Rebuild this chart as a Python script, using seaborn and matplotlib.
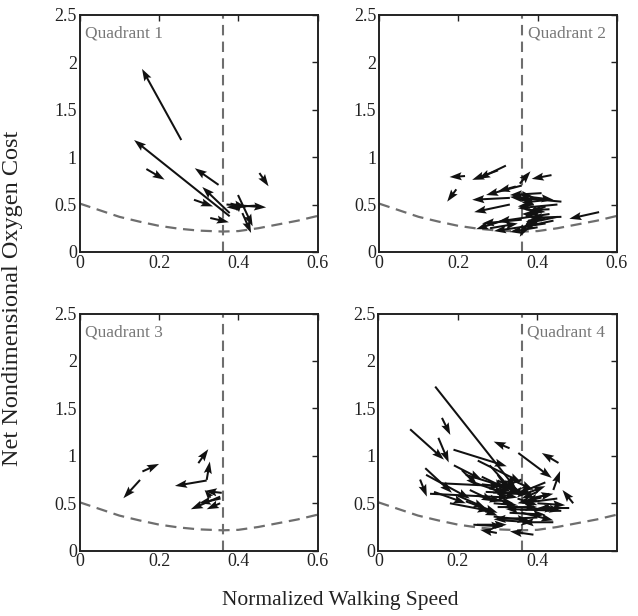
import matplotlib
matplotlib.use("Agg")
import matplotlib.pyplot as plt
import numpy as np
import pandas as pd
import seaborn as sns

sns.set_style("white")
plt.rcParams["font.family"] = ["Liberation Serif", "DejaVu Serif"]

# optimal-speed cost curve and reference speed
curve_speed = [0.0, 0.05, 0.1, 0.15, 0.2, 0.25, 0.3, 0.36, 0.4, 0.45, 0.5, 0.55, 0.6]
curve_cost = [0.51, 0.44, 0.37, 0.32, 0.275, 0.245, 0.225, 0.215, 0.22, 0.25, 0.29, 0.33, 0.38]
ref_speed = 0.36

# arrows per quadrant: tail (x0, y0) -> head (x1, y1)
q1_x0 = [0.256, 0.378, 0.168, 0.350, 0.453, 0.378, 0.288, 0.329, 0.370, 0.450, 0.399, 0.410, 0.380, 0.395]
q1_y0 = [1.18, 0.376, 0.874, 0.707, 0.832, 0.41, 0.55, 0.358, 0.50, 0.49, 0.60, 0.41, 0.51, 0.44]
q1_x1 = [0.157, 0.137, 0.214, 0.290, 0.476, 0.309, 0.336, 0.376, 0.470, 0.370, 0.436, 0.432, 0.420, 0.410]
q1_y1 = [1.93, 1.18, 0.762, 0.883, 0.692, 0.685, 0.48, 0.313, 0.47, 0.47, 0.27, 0.20, 0.47, 0.52]

q2_x0 = [0.217, 0.300, 0.320, 0.195, 0.355, 0.435, 0.360, 0.345, 0.330, 0.460, 0.330, 0.450, 0.430,
         0.555, 0.320, 0.360, 0.430, 0.380, 0.450, 0.460, 0.430, 0.420, 0.400, 0.440, 0.360, 0.400,
         0.380, 0.280, 0.410, 0.420, 0.370, 0.400, 0.390, 0.420, 0.370]
q2_y0 = [0.80, 0.86, 0.91, 0.66, 0.72, 0.81, 0.70, 0.69, 0.57, 0.53, 0.50, 0.50, 0.55,
         0.42, 0.34, 0.34, 0.40, 0.34, 0.37, 0.37, 0.45, 0.30, 0.26, 0.33, 0.60, 0.56,
         0.58, 0.25, 0.62, 0.48, 0.45, 0.40, 0.50, 0.35, 0.38]
q2_x1 = [0.178, 0.235, 0.250, 0.172, 0.382, 0.385, 0.270, 0.300, 0.235, 0.330, 0.240, 0.350, 0.360,
         0.480, 0.245, 0.260, 0.300, 0.355, 0.370, 0.380, 0.380, 0.290, 0.330, 0.360, 0.390, 0.350,
         0.440, 0.350, 0.330, 0.370, 0.420, 0.360, 0.350, 0.370, 0.420]
q2_y1 = [0.79, 0.76, 0.77, 0.53, 0.85, 0.77, 0.60, 0.64, 0.55, 0.58, 0.42, 0.46, 0.52,
         0.35, 0.24, 0.30, 0.32, 0.16, 0.30, 0.36, 0.44, 0.22, 0.21, 0.26, 0.58, 0.55,
         0.55, 0.30, 0.60, 0.39, 0.42, 0.40, 0.48, 0.32, 0.36]

q3_x0 = [0.152, 0.158, 0.299, 0.320, 0.320, 0.358, 0.354, 0.354, 0.355, 0.330]
q3_y0 = [0.746, 0.835, 0.923, 0.746, 0.740, 0.610, 0.570, 0.500, 0.550, 0.560]
q3_x1 = [0.110, 0.200, 0.324, 0.328, 0.240, 0.315, 0.280, 0.320, 0.300, 0.315]
q3_y1 = [0.553, 0.915, 1.070, 0.940, 0.683, 0.630, 0.437, 0.437, 0.500, 0.640]

q4_x0 = [0.143, 0.080, 0.160, 0.151, 0.105, 0.189, 0.118, 0.120, 0.190, 0.210, 0.160, 0.130, 0.180,
         0.250, 0.248, 0.298, 0.330, 0.352, 0.453, 0.440, 0.490, 0.239, 0.390, 0.356, 0.250, 0.280,
         0.220, 0.300, 0.240, 0.270, 0.360, 0.420, 0.430, 0.450, 0.480, 0.460, 0.400, 0.440, 0.300,
         0.200, 0.220, 0.140, 0.290, 0.330, 0.370, 0.380, 0.400, 0.310, 0.260, 0.350, 0.360, 0.420,
         0.270, 0.230, 0.260, 0.300, 0.320, 0.280, 0.340, 0.300, 0.330, 0.250, 0.360, 0.400, 0.410,
         0.290, 0.310]
q4_y0 = [1.73, 1.28, 1.40, 1.19, 0.75, 1.065, 0.87, 0.80, 0.90, 0.85, 0.71, 0.60, 0.50,
         0.45, 0.274, 0.187, 1.08, 1.03, 0.925, 0.64, 0.50, 0.274, 0.169, 0.432, 0.95, 0.90,
         0.80, 0.80, 0.72, 0.62, 0.75, 0.72, 0.60, 0.55, 0.45, 0.42, 0.35, 0.30, 0.46,
         0.58, 0.52, 0.62, 0.36, 0.40, 0.60, 0.55, 0.50, 0.70, 0.70, 0.55, 0.40, 0.45,
         0.56, 0.64, 0.78, 0.74, 0.70, 0.66, 0.68, 0.60, 0.76, 0.58, 0.66, 0.62, 0.56,
         0.50, 0.32]
q4_x1 = [0.345, 0.165, 0.181, 0.177, 0.122, 0.323, 0.185, 0.230, 0.260, 0.250, 0.310, 0.330, 0.280,
         0.300, 0.323, 0.256, 0.290, 0.436, 0.411, 0.457, 0.463, 0.314, 0.331, 0.448, 0.360, 0.340,
         0.360, 0.330, 0.320, 0.380, 0.300, 0.350, 0.370, 0.360, 0.400, 0.320, 0.290, 0.360, 0.400,
         0.270, 0.300, 0.220, 0.380, 0.420, 0.420, 0.440, 0.470, 0.360, 0.340, 0.400, 0.440, 0.460,
         0.340, 0.290, 0.320, 0.350, 0.360, 0.330, 0.300, 0.350, 0.390, 0.310, 0.320, 0.360, 0.350,
         0.350, 0.390]
q4_y1 = [0.66, 0.96, 1.22, 0.93, 0.57, 0.89, 0.61, 0.55, 0.75, 0.68, 0.68, 0.56, 0.42,
         0.37, 0.274, 0.22, 1.15, 0.767, 1.03, 0.84, 0.64, 0.256, 0.204, 0.45, 0.72, 0.62,
         0.62, 0.62, 0.60, 0.60, 0.65, 0.60, 0.52, 0.50, 0.45, 0.44, 0.33, 0.30, 0.46,
         0.45, 0.40, 0.50, 0.32, 0.38, 0.68, 0.60, 0.48, 0.58, 0.66, 0.48, 0.32, 0.42,
         0.50, 0.52, 0.66, 0.64, 0.60, 0.60, 0.62, 0.56, 0.64, 0.52, 0.58, 0.55, 0.50,
         0.48, 0.30]

quadrants = [
    ("Quadrant 1", q1_x0, q1_y0, q1_x1, q1_y1, "left", [0, 0.2, 0.4, 0.6]),
    ("Quadrant 2", q2_x0, q2_y0, q2_x1, q2_y1, "right", [0, 0.2, 0.4, 0.6]),
    ("Quadrant 3", q3_x0, q3_y0, q3_x1, q3_y1, "left", [0, 0.2, 0.4, 0.6]),
    ("Quadrant 4", q4_x0, q4_y0, q4_x1, q4_y1, "right", [0, 0.2, 0.4]),
]

fig = plt.figure(figsize=(6.38, 6.16), dpi=100)
boxes = [
    [0.125, 0.591, 0.373, 0.385],
    [0.594, 0.591, 0.373, 0.385],
    [0.125, 0.106, 0.373, 0.385],
    [0.593, 0.106, 0.374, 0.385],
]
curve = pd.DataFrame({"speed": curve_speed, "cost": curve_cost})
grey = "#6e6e6e"

for box, (label, x0, y0, x1, y1, side, xt) in zip(boxes, quadrants):
    ax = fig.add_axes(box)
    sns.lineplot(data=curve, x="speed", y="cost", ax=ax, color=grey, lw=1.6,
                 linestyle=(0, (5, 3)), zorder=1)
    ax.axvline(ref_speed, color=grey, lw=1.5, linestyle=(0, (5, 3)), zorder=1)

    x0 = np.array(x0)
    y0 = np.array(y0)
    ax.quiver(x0, y0, np.array(x1) - x0, np.array(y1) - y0, angles="xy",
              scale_units="xy", scale=1, color="#111111", width=0.0085,
              headwidth=4, headlength=6, headaxislength=5.2, zorder=3)

    if side == "left":
        ax.text(0.012, 2.3, label, color="#777777", fontsize=12.5, va="center", ha="left")
    else:
        ax.text(0.375, 2.3, label, color="#777777", fontsize=12.5, va="center", ha="left")

    ax.set_xlim(0, 0.6)
    ax.set_ylim(0, 2.5)
    ax.set_xticks(xt)
    ax.set_xticklabels([f"{v:g}" for v in xt])
    ax.set_yticks([0, 0.5, 1, 1.5, 2, 2.5])
    ax.set_yticklabels(["0", "0.5", "1", "1.5", "2", "2.5"])
    ax.set_xlabel("")
    ax.set_ylabel("")
    ax.tick_params(direction="in", length=4, width=1, top=True, right=True,
                   labelsize=13, colors="#222222", pad=2)
    for s in ax.spines.values():
        s.set_color("#222222")
        s.set_linewidth(1.4)

fig.text(0.019, 0.515, "Net Nondimensional Oxygen Cost", rotation=90,
         ha="center", va="center", fontsize=17.5, color="#222222")
fig.text(0.533, 0.025, "Normalized Walking Speed", ha="center", va="center",
         fontsize=15.5, color="#222222")

fig.savefig("out.png", dpi=100, facecolor="white")
